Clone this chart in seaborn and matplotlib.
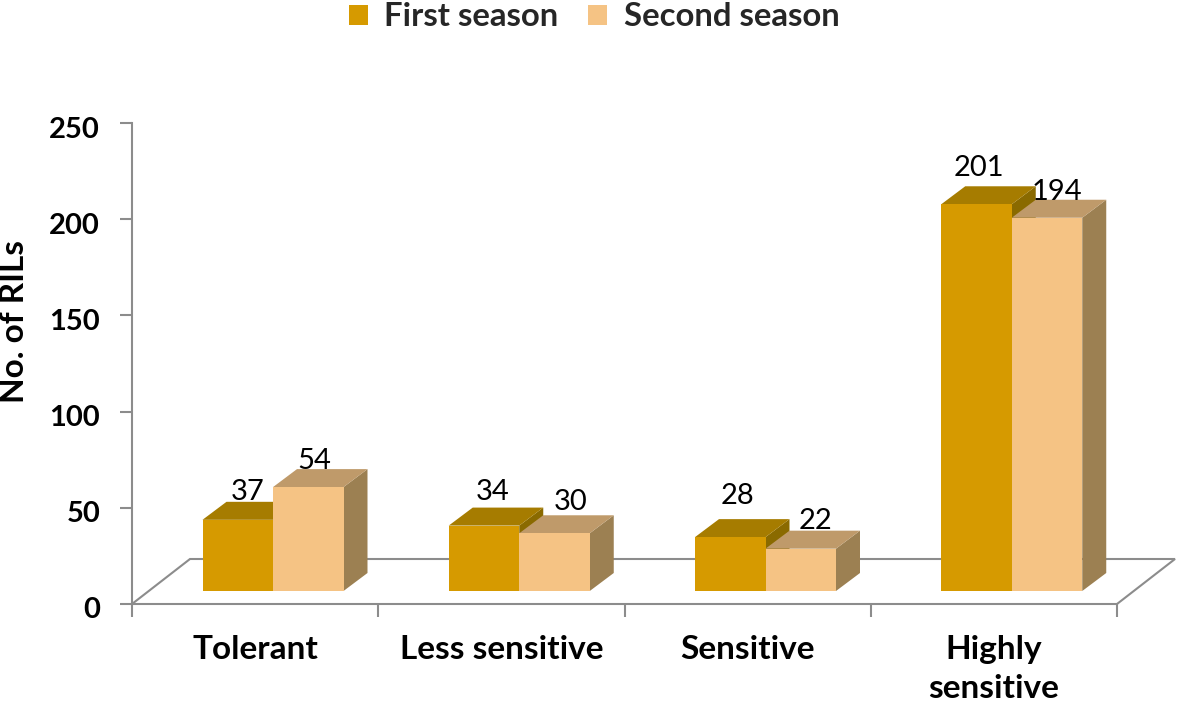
import matplotlib
matplotlib.use("Agg")
import matplotlib.pyplot as plt
from matplotlib.patches import Polygon
from matplotlib.lines import Line2D
from matplotlib.transforms import Affine2D
import pandas as pd
import seaborn as sns

categories = ["Tolerant", "Less sensitive", "Sensitive", "Highly\nsensitive"]
first_season = [37, 34, 28, 201]
second_season = [54, 30, 22, 194]
series_names = ["First season", "Second season"]
y_ticks = [0, 50, 100, 150, 200, 250]

front_colors = ["#D69A00", "#F5C384"]
top_colors = ["#A67C00", "#BF9A6A"]
side_colors = ["#8A6A00", "#9C8052"]
axis_grey = "#8C8C8C"

W, H = 1181, 703
AX_L, AX_R, AX_T, AX_B = 132, 1117, 123, 604
PX_PER_UNIT = (AX_B - AX_T) / 250
CAT_PX = (AX_R - AX_L) / 4
CENTER0 = 273
DEPTH_X, DEPTH_Y = 24, 18
FLOOR_GAP = 13 / PX_PER_UNIT

sns.set_theme(style="white")
plt.rcParams["font.family"] = ["Lato", "DejaVu Sans"]

df = pd.DataFrame({
    "category": categories * 2,
    "season": [series_names[0]] * 4 + [series_names[1]] * 4,
    "value": first_season + second_season,
})

fig = plt.figure(figsize=(W / 100, H / 100), dpi=100)
ax = fig.add_axes([AX_L / W, 1 - AX_B / H, (AX_R - AX_L) / W, (AX_B - AX_T) / H])
ax.patch.set_alpha(0)

sns.barplot(data=df, x="category", y="value", hue="season", order=categories,
            hue_order=series_names, palette=front_colors, width=141 / CAT_PX,
            gap=0, dodge=True, saturation=1, errorbar=None, ax=ax, zorder=5,
            linewidth=0)

x_left = -(CENTER0 - AX_L) / CAT_PX
x_right = x_left + 4
ax.set_xlim(x_left, x_right)
ax.set_ylim(-FLOOR_GAP, 250 - FLOOR_GAP)

dx = DEPTH_X / CAT_PX
dy = DEPTH_Y / PX_PER_UNIT

# floor
floor_y = -FLOOR_GAP
ax.add_line(Line2D([x_left, x_left + 58 / CAT_PX, x_right + 58 / CAT_PX, x_right],
                   [floor_y, floor_y + 45 / PX_PER_UNIT, floor_y + 45 / PX_PER_UNIT, floor_y],
                   color=axis_grey, lw=1.5, clip_on=False, zorder=1,
                   solid_joinstyle="miter"))

# 3-D faces derived from the bars
bars = sorted([p for p in ax.patches if p.get_width() > 0], key=lambda p: p.get_x())
for i, p in enumerate(bars):
    s = i % 2
    x0, x1 = p.get_x(), p.get_x() + p.get_width()
    h = p.get_height()
    z = 2 + s
    ax.add_patch(Polygon([(x1, 0), (x1 + dx, dy), (x1 + dx, h + dy), (x1, h)],
                         closed=True, fc=side_colors[s], ec="none", zorder=z, clip_on=False))
    ax.add_patch(Polygon([(x0, h), (x0 + dx, h + dy), (x1 + dx, h + dy), (x1, h)],
                         closed=True, fc=top_colors[s], ec="none", zorder=z, clip_on=False))

# value labels
label_dx = [9.5, 6, 8.5, 16, 7, 15, 2, 10]
label_dy = [28, 26, 34, 31, 41, 28, 36, 26]
for i, p in enumerate(bars):
    ax.annotate(f"{int(p.get_height())}",
                (p.get_x() + p.get_width() / 2, p.get_height()),
                xytext=(label_dx[i] * 0.72, label_dy[i] * 0.72),
                textcoords="offset points", ha="center", va="center",
                fontsize=21, color="black", zorder=10, clip_on=False)

# axes
for s in ["top", "right"]:
    ax.spines[s].set_visible(False)
for s in ["left", "bottom"]:
    ax.spines[s].set_color(axis_grey)
    ax.spines[s].set_linewidth(1.5)
    ax.spines[s].set_zorder(1)

ax.set_yticks([t - FLOOR_GAP for t in y_ticks])
ax.set_yticklabels([str(t) for t in y_ticks], fontsize=21, fontweight="bold", color="black")
boundaries = [x_left + k for k in range(5)]
ax.set_xticks(boundaries)
ax.set_xticklabels([""] * 5)
ax.set_xticks([x_left + k + 0.5 for k in range(4)], minor=True)
ax.set_xticklabels(categories, minor=True, fontsize=24, fontweight="bold",
                   color="black", linespacing=1.42, va="top")
ax.tick_params(axis="both", which="major", length=9, width=1.5, color=axis_grey,
               bottom=True, left=True)
ax.tick_params(axis="y", pad=14)
ax.tick_params(axis="x", which="minor", length=0, pad=22, bottom=False)
for t in ax.get_yticklabels():
    t.set_transform(t.get_transform() + Affine2D().translate(0, -4))
ax.set_xlabel("")
ax.set_ylabel("")
fig.text(15 / W, 1 - 321 / H, "No. of RILs", rotation=90, ha="center", va="center",
         fontsize=24, fontweight="bold", color="black")

sns.move_legend(ax, "center", bbox_to_anchor=(594 / W, 1 - 17 / H),
                bbox_transform=fig.transFigure, ncol=2, frameon=False, title=None,
                prop={"weight": "bold", "size": 23.7},
                handlelength=0.58, handleheight=0.58, handletextpad=0.5,
                columnspacing=0.9)

fig.savefig("out.png", dpi=100, facecolor="white")
